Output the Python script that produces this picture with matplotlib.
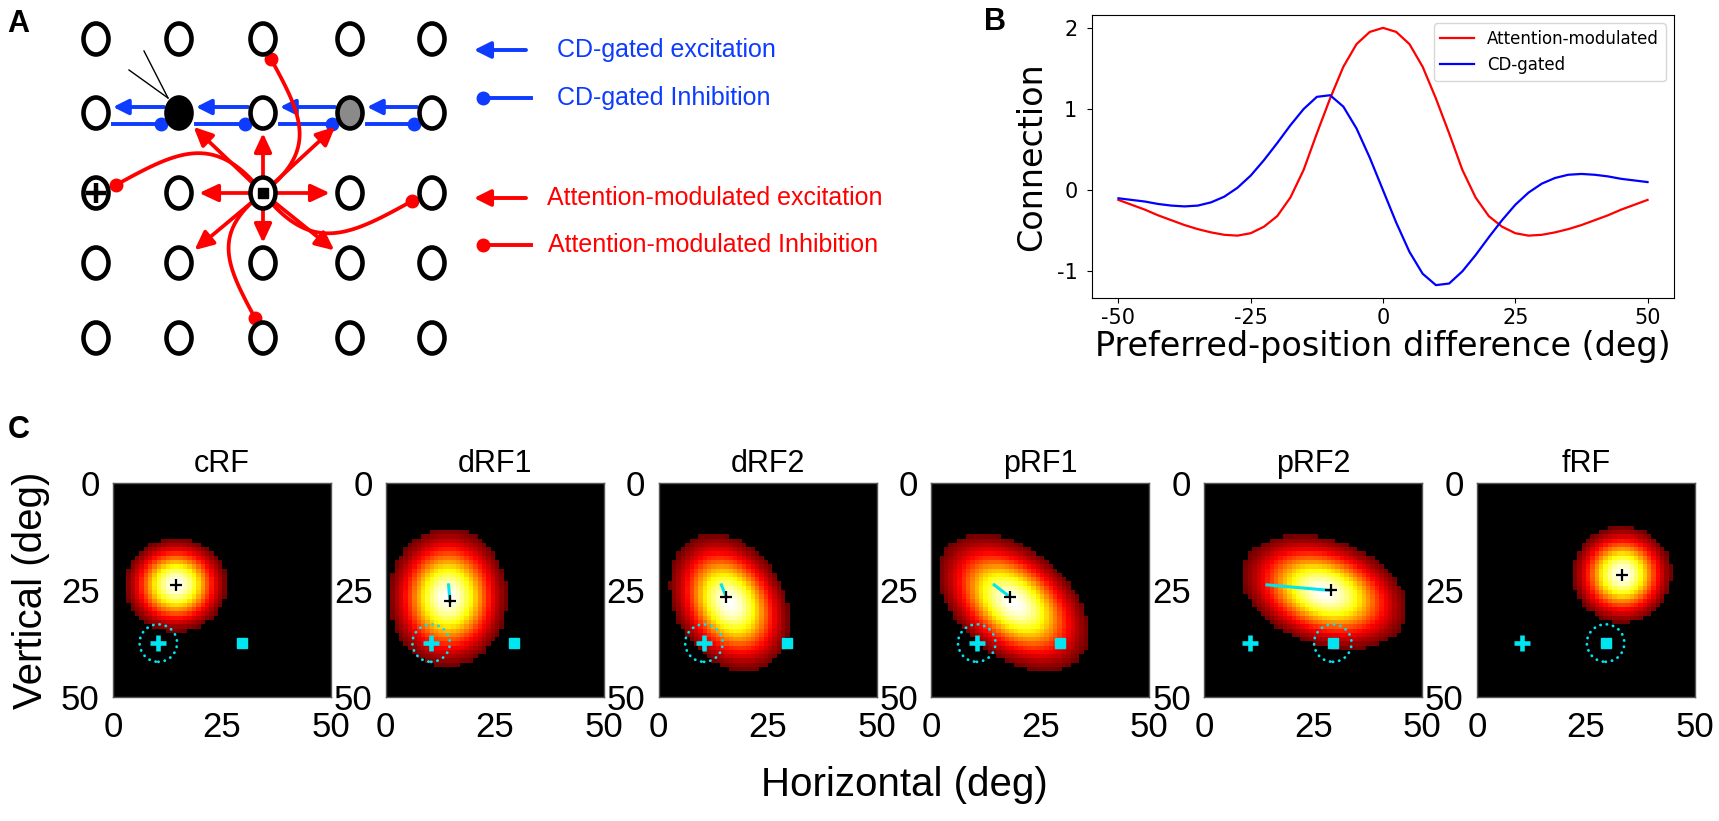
import numpy as np
import matplotlib
matplotlib.use("Agg")
import matplotlib.pyplot as plt
from matplotlib.patches import Ellipse, FancyArrowPatch

plt.rcParams['font.family'] = ['Liberation Sans', 'DejaVu Sans']
plt.rcParams['axes.unicode_minus'] = False

FW, FH = 1719, 821
BLUE = '#0d3bff'
RED = '#ff0000'
CYAN = '#00e6f0'

# ---------------- panel A: network schematic ----------------
grid_x = [96, 179, 263, 350, 432]      # column positions of the 5x5 grid
grid_y = [39, 113, 193, 263, 338]      # row positions
black_node = (1, 1)
gray_node = (1, 3)
center_node = (2, 2)
plus_node = (2, 0)
exc_targets = [(1, 1), (1, 2), (1, 3), (2, 1), (2, 3), (3, 1), (3, 2), (3, 3)]
inh_targets = [(0, 2), (2, 0), (2, 4), (4, 2)]
legend_a_labels = ["CD-gated excitation", "CD-gated Inhibition",
                   "Attention-modulated excitation", "Attention-modulated Inhibition"]
legend_a_colors = [BLUE, BLUE, RED, RED]
legend_a_kind = ["arrow", "dot", "arrow", "dot"]
legend_a_y = [50, 98, 198, 245]
legend_a_text_x = [557, 557, 547, 548]

# ---------------- panel B: connection profiles ----------------
pos_diff = np.arange(-50, 50.1, 2.5)
attention_mod = [-0.12, -0.18, -0.24, -0.31, -0.37, -0.43, -0.48, -0.52, -0.55, -0.56,
                 -0.53, -0.45, -0.32, -0.09, 0.25, 0.70, 1.13, 1.52, 1.80, 1.95,
                 2.00,
                 1.95, 1.80, 1.52, 1.13, 0.70, 0.25, -0.09, -0.32, -0.45, -0.53,
                 -0.56, -0.55, -0.52, -0.48, -0.43, -0.37, -0.31, -0.24, -0.18, -0.12]
cd_gated = [-0.10, -0.12, -0.14, -0.17, -0.19, -0.20, -0.19, -0.15, -0.08, 0.03,
            0.18, 0.37, 0.58, 0.80, 1.00, 1.15, 1.17, 1.03, 0.76, 0.40,
            0.00,
            -0.40, -0.76, -1.03, -1.17, -1.15, -1.00, -0.80, -0.58, -0.37, -0.18,
            -0.03, 0.08, 0.15, 0.19, 0.20, 0.19, 0.17, 0.14, 0.12, 0.10]

# ---------------- panel C: receptive fields ----------------
rf_names = ['cRF', 'dRF1', 'dRF2', 'pRF1', 'pRF2', 'fRF']
rf_cx = [14.4, 14.2, 16.2, 18.9, 27.5, 33.3]     # blob centre (deg)
rf_cy = [23.8, 26.7, 28.0, 28.0, 25.5, 21.4]
rf_a = [11.7, 13.6, 17.0, 20.0, 19.6, 11.4]      # visible half-extent, major
rf_b = [10.9, 16.2, 12.5, 12.5, 12.3, 11.3]      # visible half-extent, minor
rf_ang = [0, 0, 60, 40, 20, 0]                   # tilt (deg)
peak_x = [14.5, 14.7, 15.5, 18.0, 29.0, 33.3]    # black "+" (RF centre)
peak_y = [23.8, 27.6, 26.6, 26.6, 25.1, 21.4]
shift_line = [False, True, True, True, True, False]
orig_center = (14.4, 23.8)
fix_pt = (10.4, 37.4)
target_pt = (29.5, 37.4)
circled = ['fix', 'fix', 'fix', 'fix', 'target', 'target']

fig = plt.figure(figsize=(FW / 100, FH / 100), dpi=100)


def px_axes(left, top, w, h):
    return fig.add_axes([left / FW, 1 - (top + h) / FH, w / FW, h / FH])


# ======== A ========
axA = px_axes(0, 0, 960, 380)
axA.set_xlim(0, 960)
axA.set_ylim(380, 0)
axA.axis('off')


def node(r, c):
    return grid_x[c], grid_y[r]


for r in range(5):
    for c in range(5):
        fc = 'white'
        if (r, c) == black_node:
            fc = 'black'
        elif (r, c) == gray_node:
            fc = '#8a8a8a'
        axA.add_patch(Ellipse(node(r, c), 25, 31, fc=fc, ec='black', lw=3.3, zorder=4))

# black input lines on the filled node
bx, by = node(*black_node)
for ex, ey in [(-50, -43), (-35, -62)]:
    axA.plot([bx - 11, bx + ex], [by - 15, by + ey], color='black', lw=1.0, zorder=5)

# CD-gated excitation (leftwards) and inhibition (rightwards) along row 1
ry = grid_y[1]
for c in range(4):
    axA.add_patch(FancyArrowPatch((grid_x[c + 1] - 15, ry - 6), (grid_x[c] + 17, ry - 6),
                                  arrowstyle='-|>,head_length=0.9,head_width=0.45',
                                  mutation_scale=10, color=BLUE, lw=2.8,
                                  shrinkA=0, shrinkB=0, zorder=2))
    axA.plot([grid_x[c] + 17, grid_x[c + 1] - 18], [ry + 11, ry + 11], color=BLUE,
             lw=2.8, zorder=2)
    axA.plot(grid_x[c + 1] - 18, ry + 11, 'o', color=BLUE, ms=9, zorder=2)

# attention-modulated excitation from the centre node
cx0, cy0 = node(*center_node)
for (r, c) in exc_targets:
    axA.add_patch(FancyArrowPatch((cx0, cy0), node(r, c),
                                  arrowstyle='-|>,head_length=0.9,head_width=0.42',
                                  mutation_scale=12.5, color=RED, lw=2.7,
                                  shrinkA=0, shrinkB=14.5, zorder=3))

# attention-modulated inhibition: curved lines with dots
t = np.linspace(0, 1, 80)[:, None]
p0 = np.array([cx0, cy0], float)
for (r, c) in inh_targets:
    tgt = np.array(node(r, c), float)
    u = (tgt - p0) / np.hypot(*(tgt - p0))
    perp = np.array([-u[1], u[0]])
    p3 = tgt - 20 * u + 8 * perp
    L = np.hypot(*(p3 - p0))
    e = (p3 - p0) / L
    n = np.array([-e[1], e[0]])
    c1 = p0 + L * (0.35 * e + 0.40 * n)
    c2 = p0 + L * (0.60 * e + 0.25 * n)
    curve = ((1 - t) ** 3) * p0 + 3 * ((1 - t) ** 2) * t * c1 + 3 * (1 - t) * t ** 2 * c2 + t ** 3 * p3
    axA.plot(curve[:, 0], curve[:, 1], color=RED, lw=2.7, zorder=3)
    axA.plot(p3[0], p3[1], 'o', color=RED, ms=9, zorder=3)

# markers inside nodes
axA.plot(*node(*center_node), 's', color='black', ms=7, zorder=6)
axA.plot(*node(*plus_node), '+', color='black', ms=15, mew=3.2, zorder=6)

# legend of panel A
for lab, col, kind, yy, tx in zip(legend_a_labels, legend_a_colors, legend_a_kind,
                                  legend_a_y, legend_a_text_x):
    if kind == 'arrow':
        axA.add_patch(FancyArrowPatch((526, yy), (474, yy),
                                      arrowstyle='-|>,head_length=0.9,head_width=0.45',
                                      mutation_scale=11, color=col, lw=2.8,
                                      shrinkA=0, shrinkB=0))
    else:
        axA.plot([483, 531], [yy, yy], color=col, lw=2.8)
        axA.plot(483, yy, 'o', color=col, ms=9)
    axA.text(tx, yy, lab, color=col, fontsize=18, va='center', ha='left')

# ======== B ========
axB = px_axes(1092, 15, 582, 283)
axB.plot(pos_diff, attention_mod, color='red', lw=1.6, label='Attention-modulated')
axB.plot(pos_diff, cd_gated, color='blue', lw=1.6, label='CD-gated')
axB.set_xticks([-50, -25, 0, 25, 50])
axB.set_yticks([-1, 0, 1, 2])
axB.tick_params(labelsize=15, labelfontfamily='DejaVu Sans')
axB.tick_params(axis='x', pad=4)
axB.tick_params(axis='y', pad=7)
axB.set_xlabel('Preferred-position difference (deg)', fontsize=24,
               family='DejaVu Sans', labelpad=1)
axB.set_ylabel('Connection', fontsize=24, family='DejaVu Sans', labelpad=6)
axB.legend(loc='upper right', prop={'family': 'DejaVu Sans', 'size': 12})

# ======== C ========
rf_cmap = plt.get_cmap('hot').copy()
rf_cmap.set_under('black')
cells = np.arange(50) + 0.5
gx, gy = np.meshgrid(cells, cells)
for i, name in enumerate(rf_names):
    ax = px_axes(113 + i * 272.8, 483, 218, 214)
    th = np.deg2rad(rf_ang[i])
    dx, dy = gx - rf_cx[i], gy - rf_cy[i]
    uu = dx * np.cos(th) + dy * np.sin(th)
    vv = -dx * np.sin(th) + dy * np.cos(th)
    z = np.exp(-0.5 * 1.95 ** 2 * ((uu / rf_a[i]) ** 2 + (vv / rf_b[i]) ** 2))
    z[z < 0.15] = 0
    ax.imshow(z, cmap=rf_cmap, vmin=0.001, vmax=1, extent=(0, 50, 50, 0),
              interpolation='nearest', aspect='auto')
    if shift_line[i]:
        ax.plot([orig_center[0], peak_x[i]], [orig_center[1], peak_y[i]],
                color=CYAN, lw=2.2, zorder=4)
    ax.plot(peak_x[i], peak_y[i], '+', color='black', ms=9, mew=1.6, zorder=5)
    ax.plot(*fix_pt, '+', color=CYAN, ms=12, mew=3.3, zorder=5)
    ax.plot(*target_pt, 's', color=CYAN, ms=7.5, zorder=5)
    ring = fix_pt if circled[i] == 'fix' else target_pt
    ax.scatter([ring[0]], [ring[1]], s=27 ** 2, facecolors='none', edgecolors=CYAN,
               linewidths=2.0, linestyles=[(0, (0.1, 2.2))], capstyle='round', zorder=6)
    ax.set_xlim(0, 50)
    ax.set_ylim(50, 0)
    ax.set_xticks([0, 25, 50])
    ax.set_yticks([0, 25, 50])
    ax.tick_params(length=0, labelsize=25)
    ax.tick_params(axis='x', pad=10)
    ax.tick_params(axis='y', pad=9.5)
    for sp in ax.spines.values():
        sp.set_color('#555555')
        sp.set_linewidth(1.0)
    ax.set_title(name, fontsize=22, pad=8)

fig.text(31 / FW, 1 - 590 / FH, 'Vertical (deg)', rotation=90, ha='center',
         va='center', fontsize=29)
fig.text(904 / FW, 1 - 785 / FH, 'Horizontal (deg)', ha='center', va='center',
         fontsize=29)

# panel letters
fig.text(7 / FW, 1 - 32 / FH, 'A', fontsize=22, fontweight='bold', va='baseline')
fig.text(984 / FW, 1 - 30 / FH, 'B', fontsize=22, fontweight='bold', va='baseline')
fig.text(8 / FW, 1 - 438 / FH, 'C', fontsize=22, fontweight='bold', va='baseline')

fig.savefig('out.png', dpi=100)
